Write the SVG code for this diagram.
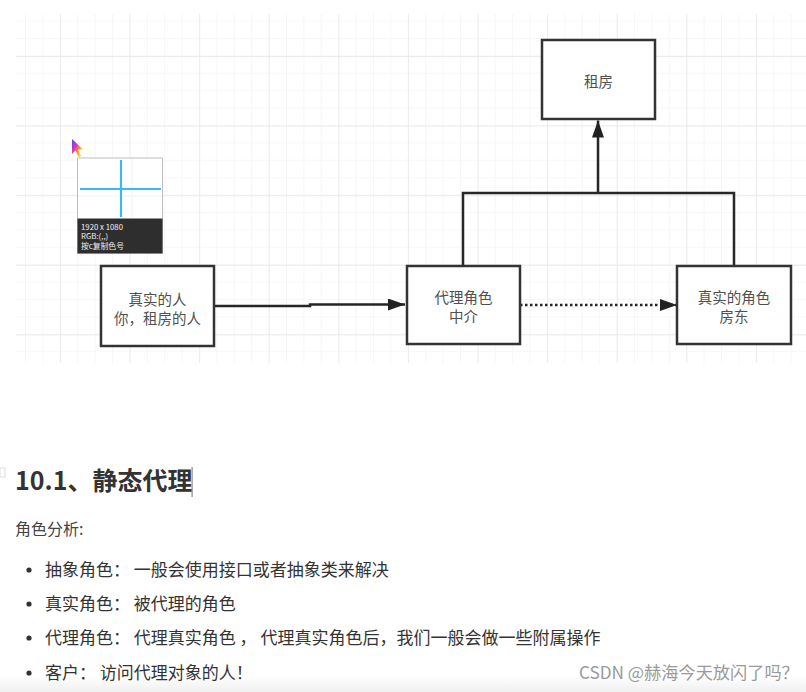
<svg xmlns="http://www.w3.org/2000/svg" width="806" height="692" viewBox="0 0 806 692">
<style>
.box{fill:#fff;stroke:#333;stroke-width:2.5}
.lbl{font-family:"Noto Sans CJK SC","Noto Sans",sans-serif;font-size:14.5px;fill:#505050;text-anchor:middle}
.con{fill:none;stroke:#262626;stroke-width:2.5}
.body{font-family:"Noto Sans CJK SC","Noto Sans",sans-serif;font-size:17px;fill:#333}
.dot{fill:#333}
</style>
<defs>
<pattern id="minor" width="17.4" height="17.4" patternUnits="userSpaceOnUse" x="25" y="20.6">
<path d="M0,0 V17.4 M0,0 H17.4" fill="none" stroke="#f0f0f0" stroke-width="1.2"/>
</pattern>
<pattern id="major" width="69.6" height="69.6" patternUnits="userSpaceOnUse" x="60" y="56">
<path d="M0,0 V69.6 M0,0 H69.6" fill="none" stroke="#e6e6e6" stroke-width="1.3"/>
</pattern>
<marker id="arr" viewBox="0 0 17 12" refX="17" refY="6" markerWidth="17" markerHeight="12" markerUnits="userSpaceOnUse" orient="auto">
<path d="M0,0 L17,6 L0,12 z" fill="#222"/>
</marker>
<linearGradient id="rainbow" x1="0" y1="0" x2="1" y2="1">
<stop offset="0" stop-color="#3050ff"/>
<stop offset="0.35" stop-color="#e030c0"/>
<stop offset="0.6" stop-color="#ff9020"/>
<stop offset="0.8" stop-color="#e8e020"/>
<stop offset="1" stop-color="#30c0a0"/>
</linearGradient>
<linearGradient id="bottomfade" x1="0" y1="0" x2="0" y2="1">
<stop offset="0" stop-color="#ffffff"/>
<stop offset="1" stop-color="#f0f0f0"/>
</linearGradient>
</defs>

<rect x="0" y="0" width="806" height="692" fill="#fff"/>
<rect x="0" y="676" width="806" height="16" fill="url(#bottomfade)"/>

<!-- grid -->
<g id="grid">
<rect x="16" y="14" width="790" height="349" fill="url(#minor)"/>
<rect x="16" y="14" width="790" height="349" fill="url(#major)"/>
</g>

<!-- connectors -->
<g id="connectors">
<path class="con" d="M214,306 H310 V304.5 H405" marker-end="url(#arr)"/>
<path class="con" d="M520,305 H677" stroke-dasharray="2.5 2.5" marker-end="url(#arr)"/>
<path class="con" d="M463,266 V193 H734 V266"/>
<path class="con" d="M598,193 V120.5" marker-end="url(#arr)"/>
</g>

<g id="node-rent">
<rect class="box" x="542" y="40" width="113" height="79"/>
<text class="lbl" x="598.5" y="87">租房</text>
</g>
<g id="node-client">
<rect class="box" x="101" y="266" width="113" height="80"/>
<text class="lbl" x="157.5" y="305">真实的人</text>
<text class="lbl" x="157.5" y="324">你，租房的人</text>
</g>
<g id="node-proxy">
<rect class="box" x="407" y="266" width="113" height="78"/>
<text class="lbl" x="463.5" y="303">代理角色</text>
<text class="lbl" x="463.5" y="322">中介</text>
</g>
<g id="node-real">
<rect class="box" x="677" y="266" width="114" height="78"/>
<text class="lbl" x="734" y="303">真实的角色</text>
<text class="lbl" x="734" y="322">房东</text>
</g>

<!-- magnifier widget -->
<g id="magnifier">
<polygon points="72,139 72,154 75.5,150.5 78.5,157 81,156 78,149.5 83,149.5" fill="url(#rainbow)"/>
<rect x="77.5" y="158" width="85" height="95" fill="#fff" stroke="#bdbdbd" stroke-width="1"/>
<path d="M132,159 V218 M78,196 H162" stroke="#f0f0f0" stroke-width="1" fill="none"/>
<path d="M121,160 V217 M80,189 H161" stroke="#3bb8f2" stroke-width="2.2" fill="none"/>
<rect x="77.5" y="218.5" width="85" height="35" fill="#2e2e2e"/>
<g font-family="'Noto Sans CJK SC','Noto Sans',sans-serif" font-size="7.8" fill="#f0f0f0">
<text x="81" y="229.5">1920 x 1080</text>
<text x="81" y="239">RGB:(,,)</text>
<text x="81" y="248.5">按c复制色号</text>
</g>
</g>

<!-- document text -->
<g id="doc">
<rect x="0" y="468" width="5" height="9" fill="none" stroke="#ddd" stroke-width="1"/>
<text x="15" y="490" font-family="'Noto Sans CJK SC','Noto Sans',sans-serif" font-size="25" font-weight="700" fill="#333">10.1、静态代理</text>
<rect x="191.5" y="467" width="1.2" height="30" fill="#888"/>
<text x="15" y="535" font-family="'Noto Sans CJK SC','Noto Sans',sans-serif" font-size="16" fill="#444">角色分析:</text>

<circle class="dot" cx="29" cy="570" r="2.6"/>
<text class="body" x="45" y="576">抽象角色： 一般会使用接口或者抽象类来解决</text>
<circle class="dot" cx="29" cy="604" r="2.6"/>
<text class="body" x="45" y="610">真实角色： 被代理的角色</text>
<circle class="dot" cx="29" cy="638" r="2.6"/>
<text class="body" x="45" y="644">代理角色： 代理真实角色 ， 代理真实角色后，我们一般会做一些附属操作</text>
<circle class="dot" cx="29" cy="673" r="2.6"/>
<text class="body" x="45" y="679">客户： 访问代理对象的人！</text>

<text x="579" y="679" font-family="'Noto Sans CJK SC','Noto Sans',sans-serif" font-size="17.2" fill="#9a9a9a">CSDN @赫海今天放闪了吗？</text>
</g>
</svg>
